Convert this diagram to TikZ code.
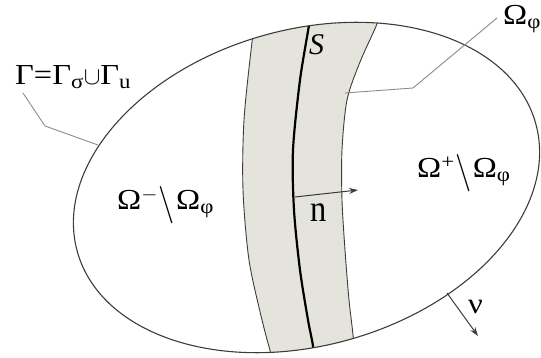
\documentclass[tikz,border=0pt]{standalone}
\usepackage{fontspec}
\setmainfont{Liberation Serif}
\newfontfamily\lblfont[FakeStretch=1.12]{Liberation Serif}
\usetikzlibrary{arrows.meta}
\definecolor{bandgrey}{RGB}{228,228,220}
\definecolor{linegrey}{RGB}{60,60,60}
\definecolor{leadgrey}{RGB}{140,140,140}
\newcommand{\bslash}{\kern1pt\raisebox{-5pt}{\scalebox{1.3}[1.5]{$\mathord{\setminus}$}}\kern1pt}
\tikzset{
  lbl/.style={inner sep=0pt, font=\fontsize{29}{31}\lblfont},
  outline/.style={draw=linegrey, line width=1.1pt},
  bandedge/.style={draw=linegrey, line width=0.9pt},
  surf/.style={draw=black, line width=2.2pt},
  leader/.style={draw=leadgrey, line width=0.9pt},
  vec/.style={draw=linegrey, line width=1pt, -{Stealth[length=9pt,width=6pt]}}
}
\begin{document}
\begin{tikzpicture}[x=1pt,y=-1pt]
\useasboundingbox (0,0) rectangle (541,358);
\begin{scope}
  \clip (306.5,187.5) ellipse [x radius=238pt, y radius=158pt, rotate=15.7];
  \fill[bandgrey] plot[smooth] coordinates {(258,0) (252,42) (244,120) (243,190) (249,260) (262,320) (272,358) (275,375)}
    -- plot[smooth] coordinates {(356,375) (353,335) (349,300) (345,250) (342,200) (342,150) (347,100) (360,62) (377,24) (385,0)} -- cycle;
  \draw[bandedge] plot[smooth] coordinates {(258,0) (252,42) (244,120) (243,190) (249,260) (262,320) (272,358) (275,375)};
  \draw[bandedge] plot[smooth] coordinates {(385,0) (377,24) (360,62) (347,100) (342,150) (342,200) (345,250) (349,300) (353,335) (356,375)};
  \draw[surf] plot[smooth] coordinates {(312,0) (309,25) (300,80) (293,150) (294,210) (300,270) (308,320) (313,346) (316,375)};
\end{scope}
\draw[outline] (306.5,187.5) ellipse [x radius=238pt, y radius=158pt, rotate=15.7];

% labels
\node[lbl, anchor=base west] (gam) at (15,85) {Γ=Γ\textsubscript{σ}$\cup$Γ\textsubscript{u}};
\node[lbl, anchor=base west] (omphi) at (503,25) {Ω\textsubscript{φ}};
\node[lbl, anchor=base west, font=\fontsize{30}{32}\selectfont\itshape] (S) at (309,55) {S};
\node[lbl, anchor=base west] (omm) at (117,210) {Ω\textsuperscript{$-$}\bslash Ω\textsubscript{φ}};
\node[lbl, anchor=base west] (omp) at (417,178) {Ω\textsuperscript{+}\bslash Ω\textsubscript{φ}};
\node[lbl, anchor=base west] (nlab) at (310,222) {\scalebox{1}[1.3]{n}};
\node[lbl, anchor=base west] (nulab) at (468,313) {ν};

% leader lines
\coordinate (g1) at (45,126);
\coordinate (g2) at (98,145);
\coordinate (o1) at (413,88);
\coordinate (o2) at (345,93);
\draw[leader] (23,93) -- (g1) -- (g2);
\draw[leader] (497,18) -- (o1) -- (o2);

% vectors
\coordinate (nstart) at (295,197);
\coordinate (nend) at (358,190);
\draw[vec] (nstart) -- (nend);
\coordinate (nustart) at (447,293);
\coordinate (nuend) at (478,336);
\draw[vec] (nustart) -- (nuend);
\end{tikzpicture}
\end{document}
